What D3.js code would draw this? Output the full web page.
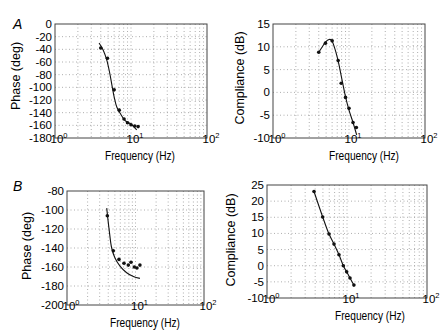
<!DOCTYPE html>
<html>
<head>
<meta charset="utf-8">
<script src="https://cdn.jsdelivr.net/npm/d3@7"></script>
<style>
  body { margin: 0; background: #fff; }
  svg { display: block; font-family: "Liberation Sans", Arial, sans-serif; }
</style>
</head>
<body>
<div id="chart"></div>
<script>
// panel A, phase
const aPhaseFreq = [4.0, 4.9, 6.0, 7.0, 8.1, 9.0, 10.0, 11.2, 12.4];
const aPhase = [-38, -54, -104, -136, -150, -156, -159, -161, -162];
const aPhaseFitFreq = [3.8, 4.3, 4.8, 5.2, 5.6, 6.0, 6.5, 7.2, 8.3, 10.2, 11.9];
const aPhaseFit = [-30, -41, -57, -75, -96, -115, -131, -141, -152, -159, -167];
// panel A, compliance
const aCompFreq = [4.0, 4.9, 6.0, 7.2, 7.9, 9.0, 10.0, 11.3, 12.5];
const aComp = [8.8, 10.8, 11.3, 7.0, 2.0, -1.1, -3.5, -6.6, -7.7];
const aCompFitFreq = [4.0, 4.46, 4.93, 5.46, 5.86, 6.48, 7.17, 8.17, 9.04, 10.0, 11.3, 12.6];
const aCompFit = [8.8, 10.0, 11.1, 11.6, 11.5, 9.7, 7.0, 2.4, -1.1, -3.9, -6.6, -9.3];
// panel B, phase
const bPhaseFreq = [3.88, 4.74, 5.74, 6.79, 7.85, 8.6, 9.6, 10.5, 11.6];
const bPhase = [-106, -143, -152, -156, -158, -155, -160, -161, -158];
const bPhaseFitFreq = [3.8, 4.15, 4.49, 5.02, 5.94, 7.43, 9.3, 11.6];
const bPhaseFit = [-98, -122.5, -140, -150.5, -159, -166, -170, -172];
// panel B, compliance
const bCompFreq = [3.87, 4.97, 5.96, 6.88, 7.94, 9.0, 9.9, 10.9, 12.2];
const bComp = [23.0, 15.1, 9.8, 6.7, 3.4, 0, -1.9, -3.8, -6.0];

const xDecades = [0, 1, 2];

const W = 448, H = 336;
const svg = d3.select("#chart").append("svg").attr("width", W).attr("height", H);

const zip = (xs, ys) => xs.map((f, i) => ({f, v: ys[i]}));

function panel(p) {
    const x = d3.scaleLog().domain([1, 100]).range([p.x0, p.x1]);
    const y = d3.scaleLinear().domain(p.yDomain).range([p.y1, p.y0]);
    const g = svg.append("g");

    // gridlines
    const minor = [];
    [1, 10].forEach(b => d3.range(1, 10).forEach(k => { if (b * k > 1) minor.push(b * k); }));
    g.append("g").selectAll("line").data(minor).enter().append("line")
        .attr("x1", d => x(d)).attr("x2", d => x(d))
        .attr("y1", p.y0).attr("y2", p.y1)
        .style("stroke", "#999").style("stroke-width", 0.8).style("stroke-dasharray", "1,2.5");
    const yt = d3.range(p.yDomain[0], p.yDomain[1] + 0.1, p.yStep);
    g.append("g").selectAll("line").data(yt.slice(1, -1)).enter().append("line")
        .attr("x1", p.x0).attr("x2", p.x1)
        .attr("y1", d => y(d)).attr("y2", d => y(d))
        .style("stroke", "#999").style("stroke-width", 0.8).style("stroke-dasharray", "1,2.5");

    // box
    g.append("rect").attr("x", p.x0).attr("y", p.y0)
        .attr("width", p.x1 - p.x0).attr("height", p.y1 - p.y0)
        .style("fill", "none").style("stroke", "#444").style("stroke-width", 1);

    // y tick labels
    g.append("g").selectAll("text").data(yt).enter().append("text")
        .attr("x", p.x0 - 3).attr("y", d => y(d) + 4)
        .attr("text-anchor", "end").style("font-size", "11.5px")
        .text(d => String(d));

    // x tick labels
    const xl = g.append("g").selectAll("text").data(xDecades).enter().append("text")
        .attr("x", d => x(Math.pow(10, d)) + 4).attr("y", p.y1 + 5)
        .attr("text-anchor", "middle").style("font-size", "11.5px");
    xl.append("tspan").text("10");
    xl.append("tspan").attr("dy", -5).style("font-size", "7.5px").text(d => d);

    // axis labels
    g.append("text").attr("x", p.xlabX).attr("y", p.y1 + 22)
        .attr("text-anchor", "middle").style("font-size", "13px")
        .attr("textLength", 70).attr("lengthAdjust", "spacingAndGlyphs")
        .text("Frequency (Hz)");
    g.append("text").attr("transform", `translate(${p.ylabX}, ${p.ylabY}) rotate(-90)`)
        .attr("text-anchor", "middle").style("font-size", "12.5px").text(p.ylab);

    // fit curve
    g.append("path").datum(zip(p.fitF, p.fit))
        .attr("d", d3.line().curve(d3.curveCatmullRom).x(d => x(d.f)).y(d => y(d.v)))
        .style("fill", "none").style("stroke", "#111").style("stroke-width", 1.1);

    // data points
    g.append("g").selectAll("circle").data(zip(p.ptF, p.pt)).enter().append("circle")
        .attr("cx", d => x(d.f)).attr("cy", d => y(d.v)).attr("r", 1.8)
        .style("fill", "#111");
}

panel({x0: 55, x1: 207, y0: 24, y1: 138, yDomain: [-180, 0], yStep: 20,
       ylab: "Phase (deg)", ylabX: 20, ylabY: 76, xlabX: 140,
       ptF: aPhaseFreq, pt: aPhase, fitF: aPhaseFitFreq, fit: aPhaseFit});
panel({x0: 273, x1: 425, y0: 24, y1: 138, yDomain: [-10, 15], yStep: 5,
       ylab: "Compliance (dB)", ylabX: 244, ylabY: 78, xlabX: 364,
       ptF: aCompFreq, pt: aComp, fitF: aCompFitFreq, fit: aCompFit});
panel({x0: 67, x1: 204, y0: 191, y1: 305, yDomain: [-200, -80], yStep: 20,
       ylab: "Phase (deg)", ylabX: 31, ylabY: 246, xlabX: 145,
       ptF: bPhaseFreq, pt: bPhase, fitF: bPhaseFitFreq, fit: bPhaseFit});
panel({x0: 267, x1: 427, y0: 185, y1: 298, yDomain: [-10, 25], yStep: 5,
       ylab: "Compliance (dB)", ylabX: 235, ylabY: 240, xlabX: 370,
       ptF: bCompFreq, pt: bComp, fitF: bCompFreq, fit: bComp});

// panel letters
svg.append("text").attr("x", 13).attr("y", 29).style("font-size", "14px")
    .style("font-style", "italic").text("A");
svg.append("text").attr("x", 13).attr("y", 191).style("font-size", "14px")
    .style("font-style", "italic").text("B");
</script>
</body>
</html>
